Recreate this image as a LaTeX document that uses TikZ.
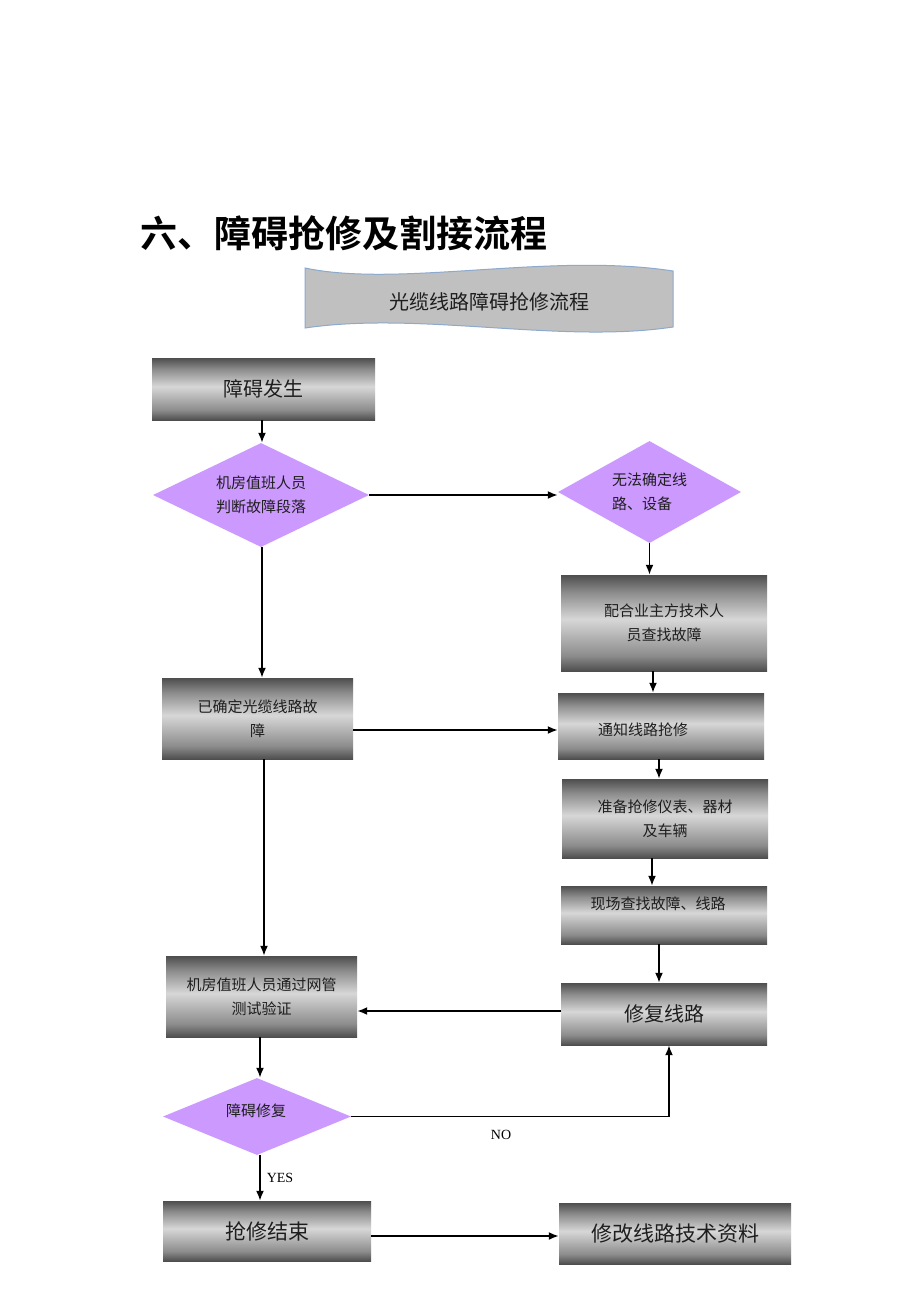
\documentclass[tikz,border=0pt]{standalone}
\usepackage{fontspec}
\setmainfont{Liberation Serif}
\newfontfamily\cjk{Noto Sans CJK SC}
\newfontfamily\cjkb{Noto Sans CJK SC}[BoldFont={* Bold}]
\usetikzlibrary{shapes.geometric,arrows.meta}
\definecolor{dkg}{RGB}{78,78,78}
\definecolor{mdg}{RGB}{140,140,140}
\definecolor{ltg}{RGB}{215,215,215}
\definecolor{vio}{RGB}{204,153,255}
\definecolor{banner}{RGB}{192,192,192}
\definecolor{bannerline}{RGB}{140,170,205}
\definecolor{txt}{RGB}{30,30,30}
\pgfdeclareverticalshading{metal}{100bp}{%
  color(0bp)=(dkg); color(25bp)=(dkg); color(33bp)=(mdg); color(52bp)=(ltg);
  color(66bp)=(mdg); color(75bp)=(dkg); color(100bp)=(dkg)}
\tikzset{
  mbox/.style={rectangle, shading=metal, inner sep=0pt, align=center,
    text=txt, font=\cjk\fontsize{15}{24}\selectfont},
  dmd/.style={diamond, aspect=2, fill=vio, inner sep=0pt, align=center,
    text=txt, font=\cjk\fontsize{15}{24}\selectfont},
  arr/.style={draw=black, line width=1.8pt, -{Latex[length=10pt,width=8pt]}},
  big/.style={font=\cjk\fontsize{20}{24}\selectfont}
}
\begin{document}
\begin{tikzpicture}[x=1pt,y=-1pt]
\useasboundingbox[fill=white] (0,0) rectangle (920,1302);
% title
\node[anchor=west, font=\cjkb\fontsize{37}{40}\selectfont\bfseries] (title) at (137,233) {六、障碍抢修及割接流程};
% banner
\draw[fill=banner, draw=bannerline, line width=1pt]
  (305,268) .. controls (400,288) and (550,252) .. (673,271)
  -- (673,327) .. controls (560,344) and (420,311) .. (305,328) -- cycle;
\node[font=\cjk\fontsize{20}{24}\selectfont, text=txt] (bt) at (489,302) {光缆线路障碍抢修流程};
% nodes
\node[mbox, big, minimum width=223pt, minimum height=62pt] (b1) at (263.5,389) {障碍发生};
\node[dmd, minimum width=216pt, minimum height=104pt] (d1) at (261,495) {机房值班人员\\判断故障段落};
\node[dmd, minimum width=183pt, minimum height=102pt, align=left] (d2) at (649.5,492) {无法确定线\\路、设备};
\node[mbox, minimum width=206pt, minimum height=96pt] (b4) at (664,623) {配合业主方技术人\\员查找故障};
\node[mbox, minimum width=191pt, minimum height=81pt] (b5) at (257.5,718.5) {已确定光缆线路故\\障};
\node[mbox, minimum width=206pt, minimum height=66pt] (b6) at (661,726) {};
\node[font=\cjk\fontsize{15}{24}\selectfont, text=txt] (t6) at (643,730) {通知线路抢修};
\node[mbox, minimum width=206pt, minimum height=79pt] (b7) at (665,818.5) {准备抢修仪表、器材\\及车辆};
\node[mbox, minimum width=206pt, minimum height=58pt] (b8) at (664,915) {};
\node[font=\cjk\fontsize{15}{24}\selectfont, text=txt] (t8) at (658,904) {现场查找故障、线路};
\node[mbox, big, minimum width=206pt, minimum height=62pt] (b9) at (664,1014) {修复线路};
\node[mbox, minimum width=191pt, minimum height=81pt] (b10) at (261.5,996.5) {机房值班人员通过网管\\测试验证};
\node[dmd, minimum width=188pt, minimum height=77pt] (d3) at (257,1116.5) {};
\node[font=\cjk\fontsize{15}{24}\selectfont, text=txt] (t3) at (256,1111) {障碍修复};
\node[mbox, font=\cjk\fontsize{21}{24}\selectfont, minimum width=208pt, minimum height=60pt] (b12) at (267,1231) {抢修结束};
\node[mbox, font=\cjk\fontsize{21}{24}\selectfont, minimum width=232pt, minimum height=61pt] (b13) at (675,1233.5) {修改线路技术资料};
% connectors
\draw[arr] (b1.south -| 262,0) -- (d1.north -| 262,0);
\draw[arr] (d1.east) -- (d2.west |- d1.east);
\draw[arr] (d2.south) -- (b4.north -| d2.south);
\draw[arr] (d1.south -| 262,0) -- (b5.north -| 262,0);
\draw[arr] (b4.south -| 653,0) -- (b6.north -| 653,0);
\draw[arr] (b5.east |- 0,730) -- (b6.west |- 0,730);
\draw[arr] (b6.south -| 659,0) -- (b7.north -| 659,0);
\draw[arr] (b7.south -| 652,0) -- (b8.north -| 652,0);
\draw[arr] (b8.south -| 659,0) -- (b9.north -| 659,0);
\draw[arr] (b5.south -| 264,0) -- (b10.north -| 264,0);
\draw[arr] (b9.west |- 0,1011) -- (b10.east |- 0,1011);
\draw[arr] (b10.south -| 260,0) -- (d3.north -| 260,0);
\draw[arr] (d3.east) -- (669,1116.5) -- (b9.south -| 669,0);
\draw[arr] (d3.south -| 260,0) -- (b12.north -| 260,0);
\draw[arr] (b12.east |- 0,1236) -- (b13.west |- 0,1236);
\node[font=\fontsize{14}{16}\selectfont] (no) at (501,1135) {NO};
\node[font=\fontsize{14}{16}\selectfont] (yes) at (280,1178) {YES};
\end{tikzpicture}
\end{document}
